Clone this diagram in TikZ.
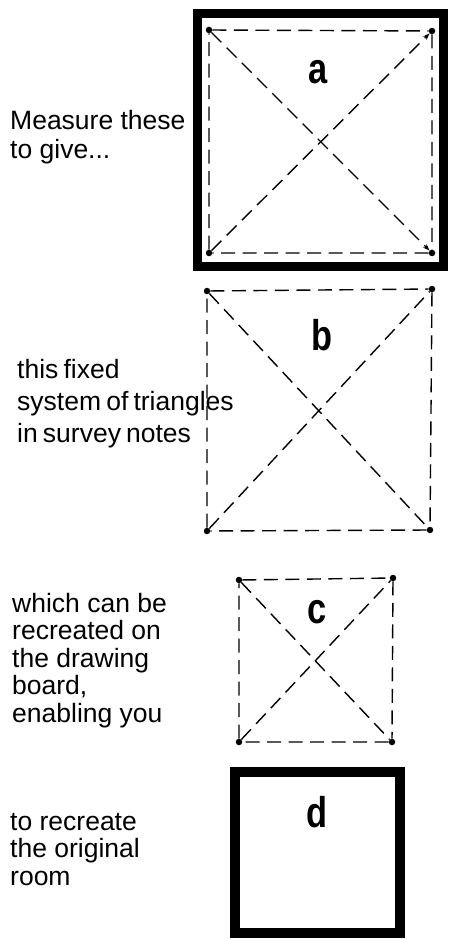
\documentclass[tikz,border=0pt]{standalone}
\usepackage{fontspec}
\setmainfont{Liberation Sans}
\newfontfamily\tightfont[WordSpace=0.7]{Liberation Sans}
\usetikzlibrary{arrows.meta}
\begin{document}
\begin{tikzpicture}[x=1pt,y=-1pt,
  dsh/.style={line width=1.4pt, dash pattern=on 14pt off 7.5pt},
  dotpt/.style={circle, fill=black, inner sep=0pt, minimum size=6.5pt},
  wall/.style={line width=9pt},
  lbl/.style={inner sep=0pt, font=\fontsize{43}{43}\selectfont\bfseries},
  txt/.style={anchor=base west, align=left, inner sep=0pt, font=\fontsize{26.5}{27.5}\selectfont}
]
\useasboundingbox (0,0) rectangle (449,939);

% box a
\draw[wall] (197,14) rectangle (443,266);
\node[dotpt] (a1) at (209,30) {};
\node[dotpt] (a2) at (432,31) {};
\node[dotpt] (a3) at (432,253) {};
\node[dotpt] (a4) at (209,253) {};
\draw[dsh] (a1) -- (a2) -- (a3) -- (a4) -- (a1);
\draw[dsh, -{Stealth[length=7pt,width=5pt]}] (a4) -- (a2);
\draw[dsh, -{Stealth[length=7pt,width=5pt]}] (a1) -- (a3);
\node[lbl] (la) at (318,72) {\scalebox{0.8}[1]{a}};

% box b
\node[dotpt] (b1) at (207,291) {};
\node[dotpt] (b2) at (432,289) {};
\node[dotpt] (b3) at (430,530) {};
\node[dotpt] (b4) at (207,531) {};
\draw[dsh] (b1) -- (b2) -- (b3) -- (b4) -- (b1);
\draw[dsh] (b4) -- (b2);
\draw[dsh] (b1) -- (b3);
\node[lbl] (lb) at (322,335) {\scalebox{0.8}[1]{b}};

% box c
\node[dotpt] (c1) at (239,580) {};
\node[dotpt] (c2) at (393,578) {};
\node[dotpt] (c3) at (392,742) {};
\node[dotpt] (c4) at (239,742) {};
\draw[dsh] (c1) -- (c2) -- (c3) -- (c4) -- (c1);
\draw[dsh] (c4) -- (c2);
\draw[dsh] (c1) -- (c3);
\node[lbl] (lc) at (317,612) {\scalebox{0.8}[1]{c}};

% box d
\draw[wall, line width=10pt] (235,772) rectangle (400,933);
\node[lbl] (ld) at (317,812) {\scalebox{0.8}[1]{d}};

% texts (anchor = baseline of the last line)
\node[txt, font=\fontsize{26.5}{29}\selectfont] (t1) at (10,158) {Measure these\\to give...};
\node[txt, font=\tightfont\fontsize{26.5}{32}\selectfont] (t2) at (17,442) {this fixed\\system of triangles\\in survey notes};
\node[txt] (t3) at (12,722) {which can be\\recreated on\\the drawing\\board,\\enabling you};
\node[txt] (t4) at (10,885) {to recreate\\the original\\room};
\end{tikzpicture}
\end{document}
